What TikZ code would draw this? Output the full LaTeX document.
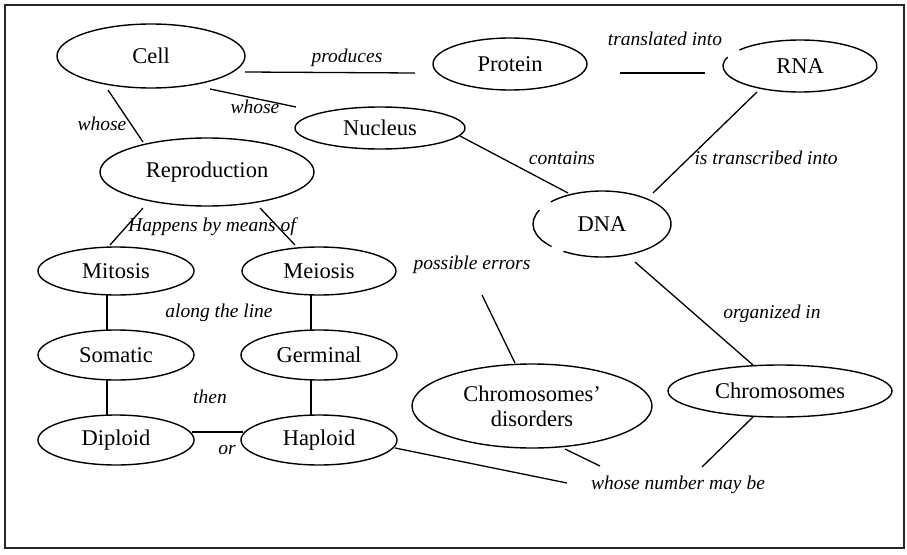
\documentclass[tikz,border=0pt]{standalone}
\usepackage{fontspec}
\setmainfont{Liberation Serif}
\usetikzlibrary{shapes.geometric}
\begin{document}
\begin{tikzpicture}[x=1pt,y=-1pt,
  concept/.style={draw, ellipse, line width=1.4pt, inner sep=0pt,
    font=\fontsize{22.5}{25}\selectfont, align=center},
  openconcept/.style={concept, draw=none},
  relation/.style={font=\fontsize{19.5}{22}\selectfont\itshape, inner sep=0pt,
    text height=0.7em, text depth=0.22em},
  link/.style={line width=1.3pt},
  rim/.style={line width=1.4pt}]
\useasboundingbox (0,0) rectangle (907,554);
\draw[line width=1.6pt, black!85] (5,5) rectangle (904,548);

% concepts
\node[concept, minimum width=188, minimum height=64] (cell) at (151,56) {Cell};
\node[concept, minimum width=154, minimum height=52] (protein) at (510,64) {Protein};
\node[openconcept, minimum width=154, minimum height=52] (rna) at (800,66) {RNA};
\node[concept, minimum width=170, minimum height=42] (nucleus) at (380,128) {Nucleus};
\node[concept, minimum width=214, minimum height=68] (repro) at (207,172) {Reproduction};
\node[openconcept, minimum width=138, minimum height=66] (dna) at (602,224) {DNA};
\node[concept, minimum width=156, minimum height=48] (mitosis) at (116,271) {Mitosis};
\node[concept, minimum width=154, minimum height=48] (meiosis) at (319,271) {Meiosis};
\node[concept, minimum width=156, minimum height=50] (somatic) at (116,355) {Somatic};
\node[concept, minimum width=156, minimum height=50] (germinal) at (319,355) {Germinal};
\node[concept, minimum width=156, minimum height=50] (diploid) at (116,440) {Diploid};
\node[concept, minimum width=156, minimum height=50] (haploid) at (319,440) {Haploid};
\node[concept, minimum width=240, minimum height=84] (disorders) at (532,406) {Chromosomes'\\disorders};
\node[concept, minimum width=224, minimum height=52] (chromo) at (780,391) {Chromosomes};

% hand-drawn rims with small breaks
\draw[rim] ([shift={({77*cos(218)},{26*sin(218)})}]rna.center)
  arc[start angle=218, end angle=560, x radius=77, y radius=26];
\draw[rim] ([shift={({69*cos(222)},{33*sin(222)})}]dna.center)
  arc[start angle=222, end angle=484, x radius=69, y radius=33];
\draw[rim] ([shift={({69*cos(137)},{33*sin(137)})}]dna.center)
  arc[start angle=137, end angle=205, x radius=69, y radius=33];

% relations
\node[relation] (produces) at (347,60) {produces};
\node[relation] (translated) at (665,43) {translated into};
\node[relation] (whoseN) at (255,111) {whose};
\node[relation] (whoseR) at (102,128) {whose};
\node[relation] (contains) at (562,162) {contains};
\node[relation] (transcribed) at (766,162) {is transcribed into};
\node[relation] (means) at (212,229) {Happens by means of};
\node[relation] (along) at (219,315) {along the line};
\node[relation] (then) at (210,401) {then};
\node[relation] (or) at (227,452) {or};
\node[relation] (errors) at (472,267) {possible errors};
\node[relation] (organized) at (772,316) {organized in};
\node[relation] (number) at (678,487) {whose number may be};

% connectors
\draw[link] ([shift={(94,16)}]cell.center) -- ([shift={(-95,9)}]protein.center);
\draw[link] ([shift={(110,9)}]protein.center) -- ([shift={(-95,7)}]rna.center);
\draw[link] ([shift={(59,33)}]cell.center) -- ([shift={(-84,-21)}]nucleus.center);
\draw[link] ([shift={(-43,34)}]cell.center) -- ([shift={(-64,-30)}]repro.center);
\draw[link] ([shift={(80,8)}]nucleus.center) -- ([shift={(-34,-31)}]dna.center);
\draw[link] ([shift={(-43,26)}]rna.center) -- ([shift={(51,-31)}]dna.center);
\draw[link] ([shift={(-64,36)}]repro.center) -- ([shift={(-6,-26)}]mitosis.center);
\draw[link] ([shift={(53,36)}]repro.center) -- ([shift={(-24,-26)}]meiosis.center);
\draw[link] ([shift={(-9,24)}]mitosis.center) -- ([shift={(-9,-25)}]somatic.center);
\draw[link] ([shift={(-8,24)}]meiosis.center) -- ([shift={(-8,-25)}]germinal.center);
\draw[link] ([shift={(-9,25)}]somatic.center) -- ([shift={(-9,-25)}]diploid.center);
\draw[link] ([shift={(-8,25)}]germinal.center) -- ([shift={(-8,-25)}]haploid.center);
\draw[link] ([shift={(76,-8)}]diploid.center) -- ([shift={(-76,-8)}]haploid.center);
\draw[link] ([shift={(76,8)}]haploid.center) -- ([shift={(-111,-4)}]number.center);
\draw[link] ([shift={(33,43)}]disorders.center) -- ([shift={(-78,-21)}]number.center);
\draw[link] ([shift={(-27,26)}]chromo.center) -- ([shift={(24,-20)}]number.center);
\draw[link] ([shift={(33,38)}]dna.center) -- ([shift={(-27,-26)}]chromo.center);
\draw[link] ([shift={(10,28)}]errors.center) -- ([shift={(-17,-43)}]disorders.center);
\end{tikzpicture}
\end{document}
